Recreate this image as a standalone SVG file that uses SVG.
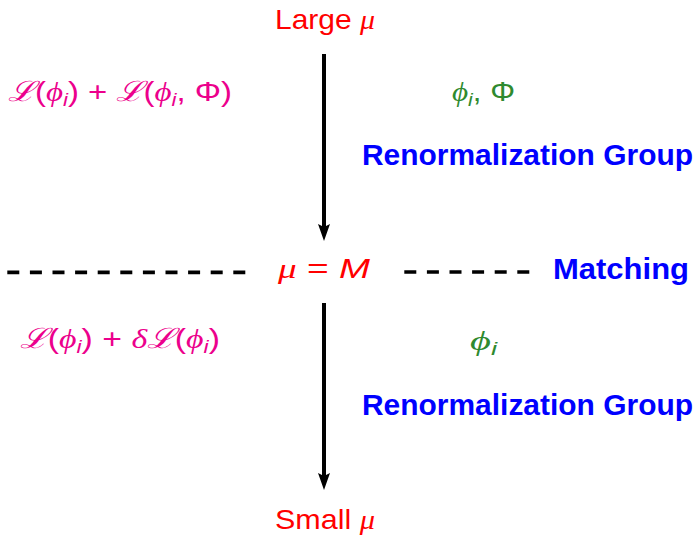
<svg xmlns="http://www.w3.org/2000/svg" width="698" height="535" viewBox="0 0 698 535">
<style>
text{font-family:"Liberation Sans","DejaVu Sans",sans-serif;font-size:28px}
.red{fill:#FF0000}
.mag{fill:#EC008C}
.grn{fill:#2F8A2F}
.blu{fill:#0000FF;font-weight:bold;font-size:29px}
.it{font-family:"Liberation Serif","DejaVu Serif",serif;font-style:italic}
.sub{font-family:"Liberation Sans","DejaVu Sans",sans-serif;font-style:italic;font-size:19px}
.scr{font-family:"DejaVu Serif",serif;font-style:italic}
.dash{stroke:#000;stroke-width:3.7;stroke-dasharray:12 10.6}
.arr{stroke:#000;stroke-width:4;fill:none}
.head{fill:#000}
</style>
<g id="connectors">
<line class="arr" x1="324" y1="54" x2="324" y2="228"/>
<path class="head" d="M318,224 L324,227 L330,224 L324,241 Z"/>
<line class="arr" x1="324" y1="303" x2="324" y2="477"/>
<path class="head" d="M318,473 L324,476 L330,473 L324,490 Z"/>
<line class="dash" x1="7.3" y1="272.3" x2="246" y2="272.3"/>
<line class="dash" x1="404.3" y1="272" x2="530" y2="272"/>
</g>
<g id="large-mu"><text class="red" x="275" y="29" textLength="100" lengthAdjust="spacingAndGlyphs">Large <tspan class="it">μ</tspan></text></g>
<g id="lagr-top"><text class="mag" x="8" y="101" textLength="224" lengthAdjust="spacingAndGlyphs"><tspan class="scr">ℒ</tspan>(<tspan class="it">ϕ</tspan><tspan class="sub" dy="5">i</tspan><tspan dy="-5">) + </tspan><tspan class="scr">ℒ</tspan>(<tspan class="it">ϕ</tspan><tspan class="sub" dy="5">i</tspan><tspan dy="-5">, Φ)</tspan></text></g>
<g id="fields-top"><text class="grn" x="452" y="101" textLength="63" lengthAdjust="spacingAndGlyphs"><tspan class="it">ϕ</tspan><tspan class="sub" dy="5">i</tspan><tspan dy="-5">, Φ</tspan></text></g>
<g id="rg-top"><text class="blu" x="362" y="165" textLength="331" lengthAdjust="spacingAndGlyphs">Renormalization Group</text></g>
<g id="mu-M"><text class="red" x="278" y="278" textLength="92" lengthAdjust="spacingAndGlyphs"><tspan class="it">μ</tspan> = <tspan font-style="italic">M</tspan></text></g>
<g id="matching"><text class="blu" x="553" y="279" textLength="136" lengthAdjust="spacingAndGlyphs">Matching</text></g>
<g id="lagr-bottom"><text class="mag" x="20" y="348" textLength="200" lengthAdjust="spacingAndGlyphs"><tspan class="scr">ℒ</tspan>(<tspan class="it">ϕ</tspan><tspan class="sub" dy="5">i</tspan><tspan dy="-5">) + </tspan><tspan class="it">δ</tspan><tspan class="scr">ℒ</tspan>(<tspan class="it">ϕ</tspan><tspan class="sub" dy="5">i</tspan><tspan dy="-5">)</tspan></text></g>
<g id="fields-bottom"><text class="grn" x="470" y="350" textLength="27" lengthAdjust="spacingAndGlyphs"><tspan class="it">ϕ</tspan><tspan class="sub" dy="5">i</tspan></text></g>
<g id="rg-bottom"><text class="blu" x="362" y="415" textLength="331" lengthAdjust="spacingAndGlyphs">Renormalization Group</text></g>
<g id="small-mu"><text class="red" x="275" y="529" textLength="100" lengthAdjust="spacingAndGlyphs">Small <tspan class="it">μ</tspan></text></g>
</svg>
